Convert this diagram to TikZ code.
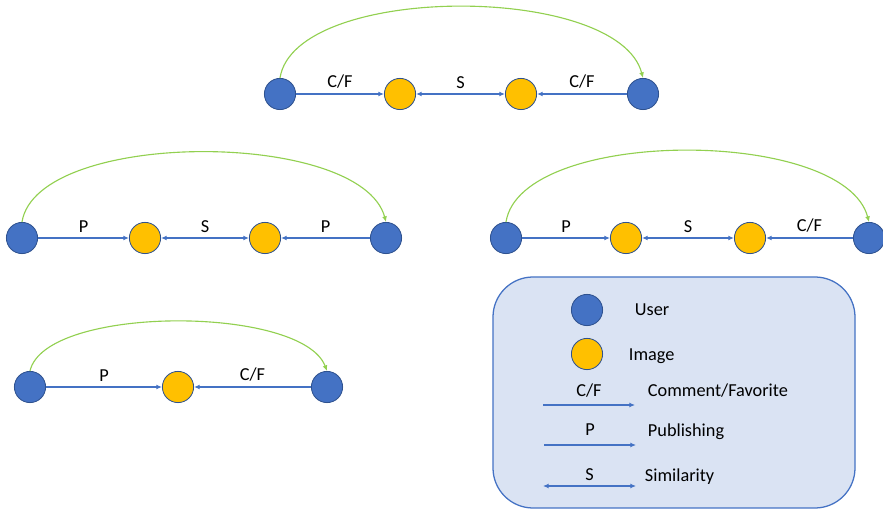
\documentclass[tikz,border=0pt]{standalone}
\usepackage{fontspec}
\setmainfont{Carlito}
\usepackage{tikz}
\usetikzlibrary{arrows.meta,positioning}
\definecolor{userblue}{RGB}{68,114,196}
\definecolor{rimblue}{RGB}{47,82,143}
\definecolor{imgyellow}{RGB}{255,192,0}
\definecolor{linkgreen}{RGB}{146,208,80}
\definecolor{legendfill}{RGB}{218,227,243}
\definecolor{legendrim}{RGB}{68,114,196}

\begin{document}
\begin{tikzpicture}[x=0.025cm,y=-0.025cm,
	font=\fontsize{13}{15}\selectfont,
	user/.style={circle,fill=userblue,draw=rimblue,line width=0.6pt,minimum size=0.78cm,inner sep=0pt},
	image/.style={circle,fill=imgyellow,draw=rimblue,line width=0.6pt,minimum size=0.78cm,inner sep=0pt},
	link/.style={draw=userblue,line width=0.9pt,-{Latex[length=4pt,width=3.5pt]}},
	simlink/.style={draw=userblue,line width=0.9pt,{Latex[length=4pt,width=3.5pt]}-{Latex[length=4pt,width=3.5pt]}},
	arc/.style={draw=linkgreen,line width=0.8pt,-{Latex[length=4pt,width=3.5pt]}}]
				\useasboundingbox (0,0) rectangle (883,511);
				% top row
				\node[user] (tu1) at (280,94) {};
				\node[image] (ti1) at (400,94) {};
				\node[image] (ti2) at (521,94) {};
				\node[user] (tu2) at (643,94) {};
				\draw[link] (tu1) -- (ti1) node[midway,above] {C/F};
				\draw[simlink] (ti1) -- (ti2) node[midway,above] {S};
				\draw[link] (tu2) -- (ti2) node[midway,above] {C/F};
				\draw[arc] (tu1.north) .. controls +(15,-95) and +(-25,-95) .. (tu2.north);
				% middle left row
				\node[user] (lu1) at (22,238) {};
				\node[image] (li1) at (145,238) {};
				\node[image] (li2) at (265,238) {};
				\node[user] (lu2) at (386,238) {};
				\draw[link] (lu1) -- (li1) node[midway,above] {P};
				\draw[simlink] (li1) -- (li2) node[midway,above] {S};
				\draw[link] (lu2) -- (li2) node[midway,above] {P};
				\draw[arc] (lu1.north) .. controls +(15,-93) and +(-25,-93) .. (lu2.north);
				% middle right row
				\node[user] (ru1) at (506,238) {};
				\node[image] (ri1) at (626,238) {};
				\node[image] (ri2) at (750,238) {};
				\node[user] (ru2) at (869,238) {};
				\draw[link] (ru1) -- (ri1) node[midway,above] {P};
				\draw[simlink] (ri1) -- (ri2) node[midway,above] {S};
				\draw[link] (ru2) -- (ri2) node[midway,above] {C/F};
				\draw[arc] (ru1.north) .. controls +(15,-95) and +(-25,-95) .. (ru2.north);
				% bottom left row
				\node[user] (bu1) at (30,387) {};
				\node[image] (bi1) at (178,387) {};
				\node[user] (bu2) at (327,387) {};
				\draw[link] (bu1) -- (bi1) node[midway,above] {P};
				\draw[link] (bu2) -- (bi1) node[midway,above] {C/F};
				\draw[arc] (bu1.north) .. controls +(15,-66) and +(-25,-66) .. (bu2.north);
				% legend
				\draw[fill=legendfill,draw=legendrim,line width=0.9pt,rounded corners=1cm] (493,277) rectangle (855,508);
				\node[user] (keyuser) at (587,310) {};
				\node[anchor=west] (keyusertext) at (630,310) {User};
				\node[image] (keyimage) at (587,354) {};
				\node[anchor=west] (keyimagetext) at (624,356) {Image};
				\coordinate (cfa) at (543,405);
				\coordinate (cfb) at (635,405);
				\draw[link] (cfa) -- (cfb) node[midway,above=2pt] {C/F};
				\node[anchor=west] (cftext) at (643,391) {Comment/Favorite};
				\coordinate (pa) at (544,445);
				\coordinate (pb) at (636,445);
				\draw[link] (pa) -- (pb) node[midway,above=3pt] {P};
				\node[anchor=west] (ptext) at (643,432) {Publishing};
				\coordinate (sa) at (543,486);
				\coordinate (sb) at (636,486);
				\draw[simlink] (sa) -- (sb) node[midway,above] {S};
				\node[anchor=west] (stext) at (640,477) {Similarity};
				\end{tikzpicture}
\end{document}
